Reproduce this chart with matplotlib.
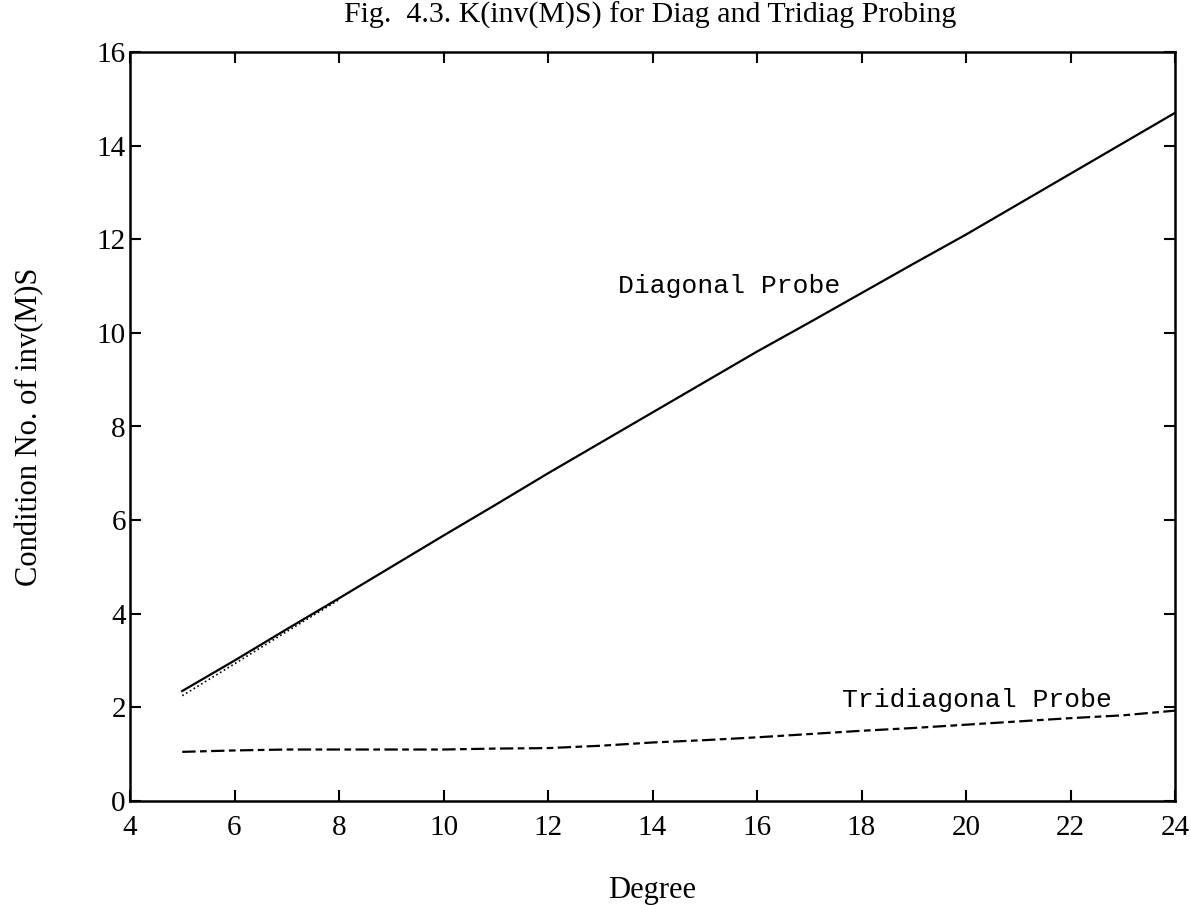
import matplotlib
matplotlib.use("Agg")
import matplotlib.pyplot as plt

degree = [5, 6, 7, 8, 9, 10, 11, 12, 13, 14, 15, 16, 17, 18, 19, 20, 21, 22, 23, 24]
diag_probe = [2.35, 3.0, 3.67, 4.33, 5.0, 5.67, 6.33, 7.0, 7.65, 8.3,
              8.95, 9.6, 10.22, 10.85, 11.48, 12.1, 12.75, 13.4, 14.05, 14.7]
diag_probe_dotted_x = [5, 6, 7, 8]
diag_probe_dotted = [2.25, 2.93, 3.62, 4.30]
tridiag_probe = [1.05, 1.08, 1.10, 1.10, 1.10, 1.10, 1.12, 1.13, 1.18, 1.25,
                 1.30, 1.36, 1.43, 1.50, 1.56, 1.63, 1.70, 1.77, 1.83, 1.93]
xticks = [4, 6, 8, 10, 12, 14, 16, 18, 20, 22, 24]
yticks = [0, 2, 4, 6, 8, 10, 12, 14, 16]

W, H = 1191, 905
fig = plt.figure(figsize=(W / 100, H / 100), dpi=100)
ax = fig.add_axes([130 / W, (H - 801) / H, 1045 / W, 749 / H])

serif = ["Liberation Serif", "DejaVu Serif"]
mono = ["Liberation Mono", "DejaVu Sans Mono"]

ax.plot(diag_probe_dotted_x, diag_probe_dotted, color="black", lw=1.2, ls=":")
ax.plot(degree, diag_probe, color="black", lw=1.6, ls="-")
ax.plot(degree, tridiag_probe, color="black", lw=1.6, dashes=[6, 2, 3, 2])

ax.set_xlim(4, 24)
ax.set_ylim(0, 16)
ax.set_xticks(xticks)
ax.set_yticks(yticks)
ax.set_xticklabels([str(t) for t in xticks], fontfamily=serif, fontsize=21)
ax.set_yticklabels([str(t) for t in yticks], fontfamily=serif, fontsize=21)
ax.tick_params(axis="both", direction="in", length=8, width=1.5,
               top=True, right=True)
ax.tick_params(axis="x", pad=10)
ax.tick_params(axis="y", pad=3)
for s in ax.spines.values():
    s.set_linewidth(1.8)

ax.text(13.34, 11.0, "Diagonal Probe", fontfamily=mono, fontsize=19,
        ha="left", va="center")
ax.text(17.63, 2.16, "Tridiagonal Probe", fontfamily=mono, fontsize=19,
        ha="left", va="center")

ax.set_xlabel("Degree", fontfamily=serif, fontsize=22)
ax.set_ylabel("Condition No. of inv(M)S", fontfamily=serif, fontsize=22)
ax.xaxis.set_label_coords(0.5, (801 - 890) / 749)
ax.yaxis.set_label_coords((30 - 130) / 1045, 0.5)
ax.xaxis.label.set_va("center")
ax.yaxis.label.set_va("center")

fig.text(650 / W, 1 - 15 / H, "Fig.  4.3. K(inv(M)S) for Diag and Tridiag Probing",
         fontfamily=serif, fontsize=21.5, ha="center", va="center")

fig.savefig("out.png", dpi=100)
